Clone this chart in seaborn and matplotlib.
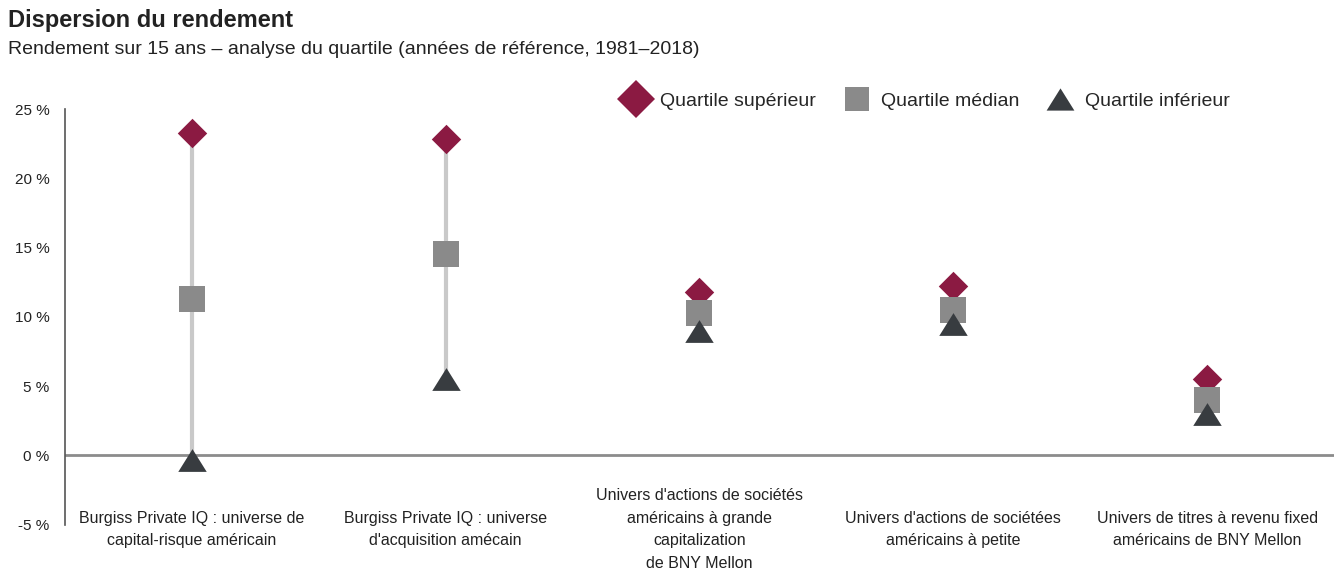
import pandas as pd
import numpy as np
import matplotlib
matplotlib.use("Agg")
import matplotlib.pyplot as plt
from matplotlib.lines import Line2D
import seaborn as sns

categories = [
    "Burgiss Private IQ : universe de\ncapital-risque américain",
    "Burgiss Private IQ : universe\nd'acquisition amécain",
    "Univers d'actions de sociétés\naméricains à grande\ncapitalization\nde BNY Mellon",
    "Univers d'actions de sociétées\naméricains à petite",
    "Univers de titres à revenu fixed\naméricains de BNY Mellon",
]
top_q = [23.3, 22.8, 11.8, 12.2, 5.5]
med_q = [11.3, 14.5, 10.3, 10.5, 4.0]
low_q = [-0.3, 5.5, 9.0, 9.5, 3.0]
series_names = ["Quartile supérieur", "Quartile médian", "Quartile inférieur"]
yticks = [-5, 0, 5, 10, 15, 20, 25]
ytick_labels = ["-5 %", "0 %", "5 %", "10 %", "15 %", "20 %", "25 %"]

COLORS = {"Quartile supérieur": "#8b1a42", "Quartile médian": "#8a8a8a", "Quartile inférieur": "#383c40"}
TRI = [(-1, -0.8), (1, -0.8), (0, 0.8)]
MARKERS = {"Quartile supérieur": "D", "Quartile médian": "s", "Quartile inférieur": TRI}
SIZES = {"Quartile supérieur": 225, "Quartile médian": 340, "Quartile inférieur": 420}
FONTS = ["Liberation Sans", "DejaVu Sans"]


def main():
    sns.set_style("white")
    plt.rcParams["font.family"] = FONTS

    rows = []
    for i in range(len(categories)):
        rows.append({"pos": i, "serie": series_names[0], "val": top_q[i]})
        rows.append({"pos": i, "serie": series_names[1], "val": med_q[i]})
        rows.append({"pos": i, "serie": series_names[2], "val": low_q[i]})
    df = pd.DataFrame(rows)

    fig = plt.figure(figsize=(13.34, 5.69), dpi=100)
    ax = fig.add_axes([0.0487, 0.078, 0.9513, 0.7304])

    # grey range line between upper and lower quartile
    ax.vlines(range(len(categories)), low_q, top_q, color="#c9c9c9", lw=3, zorder=1)
    ax.axhline(0, color="#8c8c8c", lw=2, zorder=0.5)

    for name in series_names:
        sub = df[df["serie"] == name]
        sns.scatterplot(data=sub, x="pos", y="val", marker=MARKERS[name],
                        color=COLORS[name], s=SIZES[name], linewidth=0,
                        ax=ax, zorder=3, legend=False)

    ax.set_xlim(-0.5, len(categories) - 0.5)
    ax.set_ylim(-5, 25)
    ax.set_yticks(yticks)
    ax.set_yticklabels(ytick_labels)
    ax.set_xticks(range(len(categories)))
    ax.set_xticklabels(categories, va="center", linespacing=1.65)
    ax.tick_params(axis="x", length=0, pad=3.5, labelsize=11.5, colors="#222222")
    ax.tick_params(axis="y", length=5, width=1, color="#444444", direction="out",
                   pad=6, labelsize=11, labelcolor="#222222")
    ax.set_xlabel("")
    ax.set_ylabel("")
    for s in ["top", "right", "bottom"]:
        ax.spines[s].set_visible(False)
    ax.spines["left"].set_color("#555555")
    ax.spines["left"].set_linewidth(1.2)

    fig.text(0.006, 0.964, "Dispersion du rendement", fontsize=17, fontweight="bold",
             color="#222222", va="center")
    fig.text(0.006, 0.913, "Rendement sur 15 ans – analyse du quartile (années de référence, 1981–2018)",
             fontsize=14, color="#222222", va="center")

    handles = [Line2D([], [], ls="none", marker=MARKERS[n], color=COLORS[n], markeredgewidth=0,
                      markersize={0: 19, 1: 17, 2: 20}[i]) for i, n in enumerate(series_names)]
    fig.legend(handles, series_names, loc="center", bbox_to_anchor=(0.694, 0.823), ncol=3,
               frameon=False, fontsize=14, handletextpad=0.55, columnspacing=1.4,
               handlelength=1.4)

    fig.savefig("out.png", dpi=100)
    plt.close(fig)


if __name__ == "__main__":
    main()
